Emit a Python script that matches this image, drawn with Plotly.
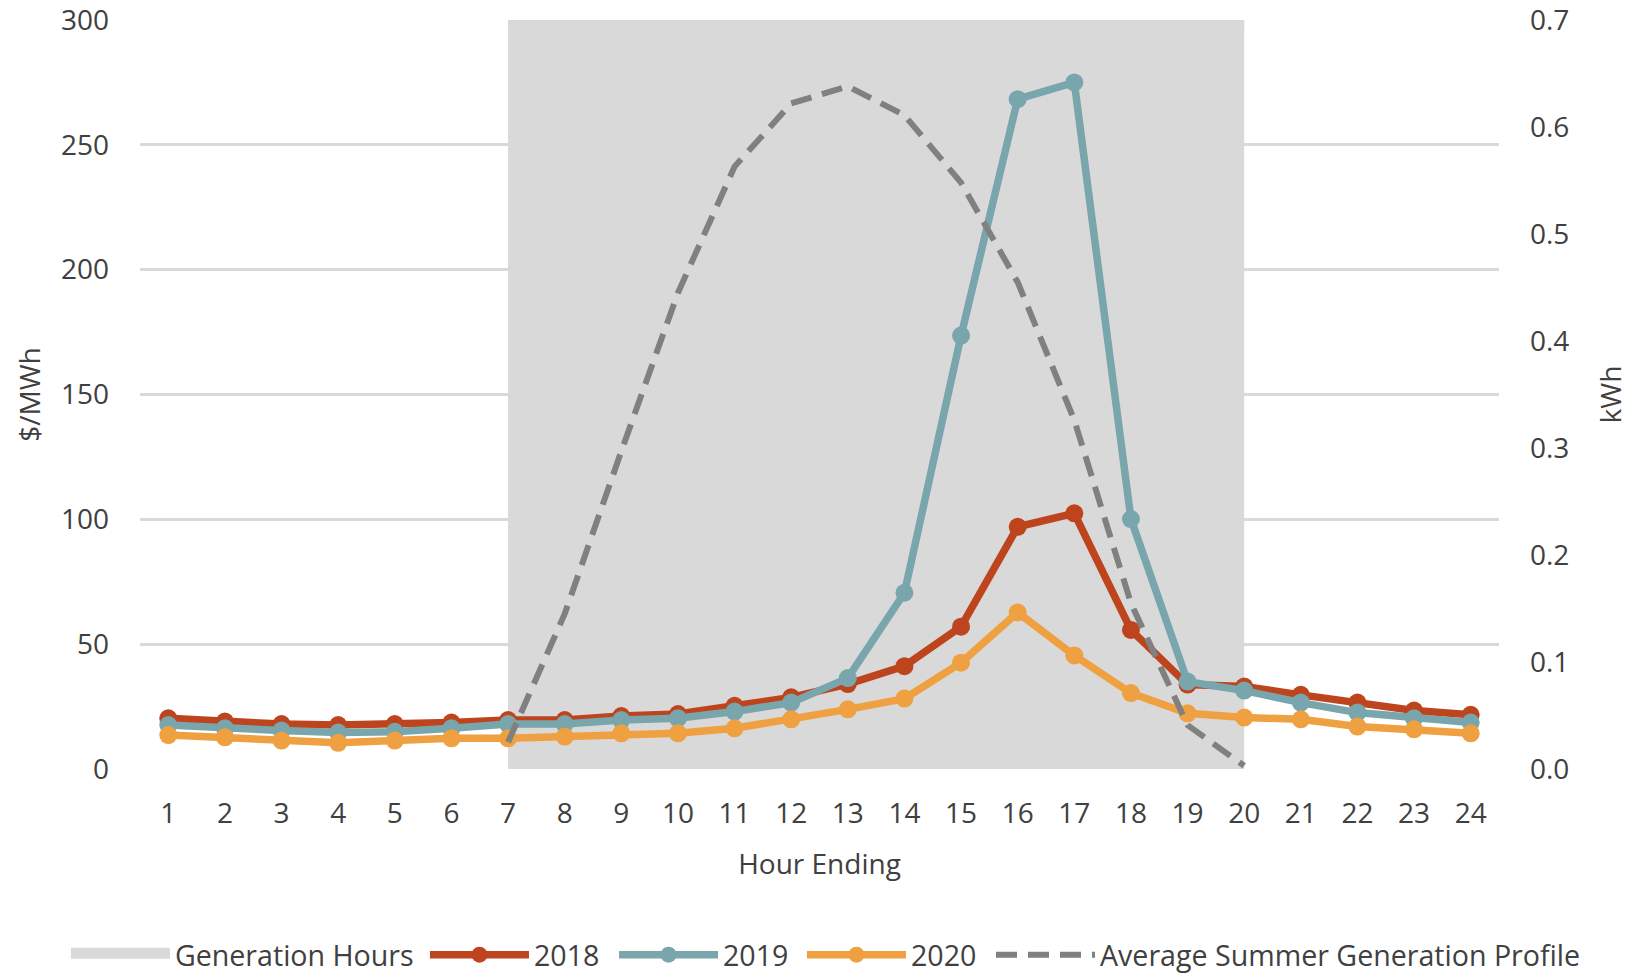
import plotly.graph_objects as go

hours = list(range(1, 25))
hour_labels = [str(h) for h in hours]

price_2018 = [20.3, 19.0, 18.0, 17.6, 18.0, 18.6, 19.6, 19.6, 21.2, 22.0, 25.3, 28.7,
              34.0, 41.2, 57.0, 97.0, 102.4, 55.7, 33.8, 33.0, 29.7, 26.6, 23.4, 21.7]
price_2019 = [17.6, 16.3, 15.4, 14.6, 14.9, 16.3, 18.0, 18.0, 19.6, 20.3, 23.0, 26.6,
              36.4, 70.6, 173.6, 268.3, 275.0, 100.1, 35.0, 31.4, 26.6, 22.6, 20.3, 18.6]
price_2020 = [13.6, 12.7, 11.4, 10.5, 11.4, 12.3, 12.3, 13.0, 14.3, 14.3, 16.3, 19.9,
              23.9, 28.2, 42.6, 62.7, 45.5, 30.4, 22.3, 20.6, 19.9, 17.0, 15.9, 14.3]

profile_hours = [7, 8, 9, 10, 11, 12, 13, 14, 15, 16, 17, 18, 19, 20]
profile_kwh = [0.025, 0.145, 0.297, 0.445, 0.563, 0.622, 0.638, 0.611, 0.548, 0.455,
               0.326, 0.155, 0.041, 0.003]

gen_hours = [7, 8, 9, 10, 11, 12, 13, 14, 15, 16, 17, 18, 19, 20]
gen_level = [300, 300, 300, 300, 300, 300, 300, 300, 300, 300, 300, 300, 300, 300]

price_ticks = [0, 50, 100, 150, 200, 250, 300]
kwh_ticks = [0.0, 0.1, 0.2, 0.3, 0.4, 0.5, 0.6, 0.7]

C2018 = "#BD441C"
C2019 = "#78A6AC"
C2020 = "#EFA040"
CGRAY = "#808080"
CSHADE = "#D9D9D9"
FONT = "Open Sans"
TXT = "#404040"
LEG_FONT = 28.6

fig = go.Figure()

fig.add_trace(go.Scatter(
    x=gen_hours, y=gen_level, name="Generation Hours", mode="lines",
    line=dict(width=18, color=CSHADE), fill="tozeroy", fillcolor=CSHADE,
    hoverinfo="skip", yaxis="y", legend="legend"))

for name, vals, col, leg in [("2018", price_2018, C2018, "legend2"),
                             ("2019", price_2019, C2019, "legend3"),
                             ("2020", price_2020, C2020, "legend4")]:
    fig.add_trace(go.Scatter(
        x=hours, y=vals, name=name, mode="lines+markers",
        line=dict(color=col, width=7.5),
        marker=dict(color=col, size=18, line=dict(width=0)),
        yaxis="y", legend=leg))

fig.add_trace(go.Scatter(
    x=profile_hours, y=profile_kwh, name="Average Summer Generation Profile",
    mode="lines", line=dict(color=CGRAY, width=6, dash="21px,11px"),
    yaxis="y2", legend="legend5"))


def leg(xpos):
    return dict(orientation="h", x=xpos, xanchor="left", y=-0.2485,
                yanchor="middle", font=dict(size=LEG_FONT, color=TXT),
                itemwidth=99, tracegroupgap=0, bgcolor="rgba(0,0,0,0)")


fig.update_layout(
    width=1644, height=976,
    margin=dict(l=140, r=145, t=20, b=207, autoexpand=False),
    paper_bgcolor="white", plot_bgcolor="white",
    font=dict(family=FONT, size=28, color=TXT),
    showlegend=True,
    legend=leg(-0.0545), legend2=leg(0.2097), legend3=leg(0.3488),
    legend4=leg(0.4871), legend5=leg(0.6262),
    xaxis=dict(range=[0.5, 24.5], tickmode="array", tickvals=hours,
               ticktext=hour_labels, showgrid=False, zeroline=False,
               showline=False, ticks="", ticklabelstandoff=25,
               title=dict(text="Hour Ending", standoff=24,
                          font=dict(size=28, color=TXT)),
               automargin=False),
    yaxis=dict(range=[0, 300], tickmode="array", tickvals=price_ticks,
               showgrid=True, gridcolor="#D9D9D9", gridwidth=2.5,
               zeroline=False, showline=False, ticks="",
               ticklabelstandoff=30, ticklabeloverflow="allow",
               title=dict(text="$/MWh", standoff=12,
                          font=dict(size=28, color=TXT)),
               automargin=False),
    yaxis2=dict(range=[0, 0.7], tickmode="array", tickvals=kwh_ticks,
                tickformat=".1f", overlaying="y", side="right",
                showgrid=False, zeroline=False, showline=False, ticks="",
                ticklabelstandoff=30, ticklabeloverflow="allow",
                title=dict(text="kWh", standoff=33,
                           font=dict(size=28, color=TXT)),
                automargin=False),
)

fig.write_html("out.html", config={"displayModeBar": False},
               post_script="document.body.style.margin='0px';")
